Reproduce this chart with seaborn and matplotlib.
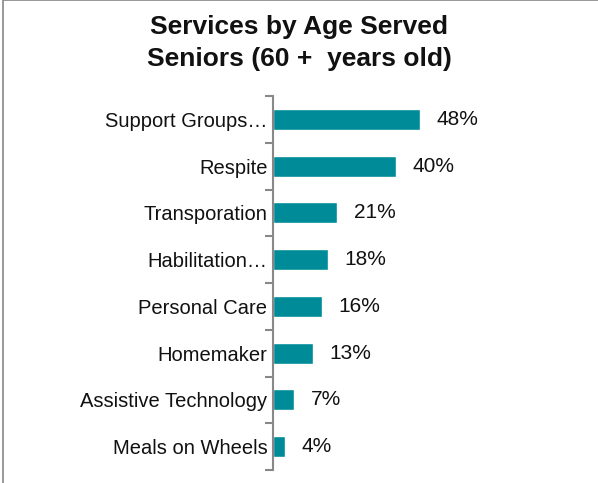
import numpy as np
import pandas as pd
import matplotlib
matplotlib.use("Agg")
import matplotlib.pyplot as plt
import seaborn as sns
from matplotlib.patches import Rectangle

services = ["Support Groups\u2026", "Respite", "Transporation", "Habilitation\u2026",
            "Personal Care", "Homemaker", "Assistive Technology", "Meals on Wheels"]
pct = [48, 40, 21, 18, 16, 13, 7, 4]

df = pd.DataFrame({"service": services, "pct": pct})

sns.set_style("white")
plt.rcParams["font.family"] = ["Liberation Sans", "DejaVu Sans"]

fig = plt.figure(figsize=(5.98, 4.83), dpi=100)
ax = fig.add_axes([273 / 598, 1 - 470 / 483, 310 / 598, 374 / 483])

sns.barplot(data=df, y="service", x="pct", orient="h", color="#008B99",
            width=0.45, saturation=1, ax=ax)

ax.set_xlim(0, 101)
ax.set_ylim(len(services) - 0.5, -0.5)
for i, v in enumerate(pct):
    ax.text(v + 5.3, i, f"{v}%", va="center", ha="left", fontsize=15, color="#111111")

# ticks between categories
ax.set_yticks(np.arange(len(services)))
ax.set_yticklabels(services, fontsize=14.5, color="#111111")
ax.tick_params(axis="y", which="major", left=False, length=0, pad=4)
ax.set_yticks(np.arange(len(services) + 1) - 0.5, minor=True)
ax.tick_params(axis="y", which="minor", left=True, length=6, width=1.5,
               color="#888888", direction="out")
ax.set_xticks([])
ax.set_xlabel("")
ax.set_ylabel("")
for s in ["top", "right", "bottom"]:
    ax.spines[s].set_visible(False)
ax.spines["left"].set_color("#888888")
ax.spines["left"].set_linewidth(1.5)

fig.text(0.5, 1 - 27 / 483, "Services by Age Served", ha="center", va="center",
         fontsize=19, fontweight="bold", color="#111111")
fig.text(0.5, 1 - 59 / 483, "Seniors (60 +  years old)", ha="center", va="center",
         fontsize=19, fontweight="bold", color="#111111")

fig.patches.append(Rectangle((3 / 598, -0.1), 1.2, 1.1 - 0.5 / 483, transform=fig.transFigure,
                             fill=False, edgecolor="#888888", linewidth=1.2))

fig.savefig("out.png", dpi=100)
